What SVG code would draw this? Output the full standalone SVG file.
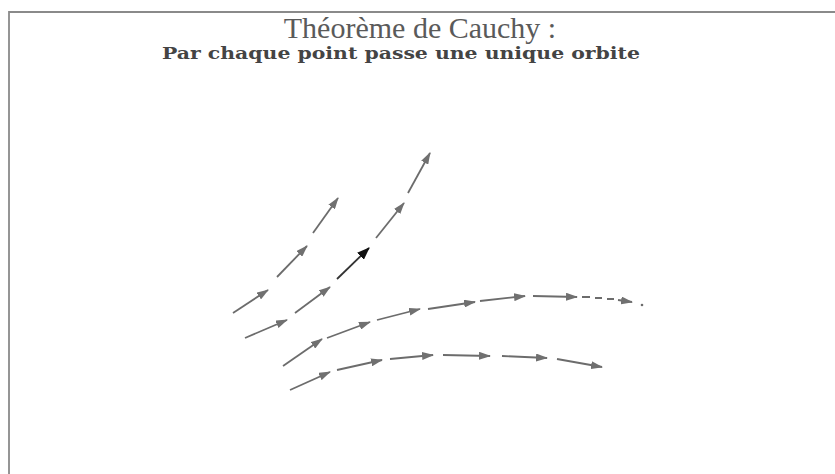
<svg xmlns="http://www.w3.org/2000/svg" width="835" height="474" viewBox="0 0 835 474">
<defs>
<marker id="ah" viewBox="0 0 12 8" refX="11" refY="4" markerWidth="12" markerHeight="8" markerUnits="userSpaceOnUse" orient="auto"><path d="M0,0 L12,4 L0,8 Z" fill="#707070"/></marker>
<marker id="ahb" viewBox="0 0 12 9" refX="11" refY="4.5" markerWidth="13" markerHeight="10" markerUnits="userSpaceOnUse" orient="auto"><path d="M0,0 L12,4.5 L0,9 Z" fill="#111"/></marker>
<style>
.t{font-family:"Liberation Serif","Times New Roman",serif;fill:#5a5a5a}
.b{font-family:"DejaVu Serif","Liberation Serif",serif;font-weight:bold;fill:#444}
.s{stroke:#6c6c6c;stroke-width:1.8;fill:none;marker-end:url(#ah)}
.d{stroke:#6c6c6c;stroke-width:1.8;fill:none}
</style>
</defs>
<rect width="835" height="474" fill="#fff"/>
<g id="frame"><path d="M9,474 L9,12 L835,12" fill="none" stroke="#8a8a8a" stroke-width="1.8"/></g>
<g id="title">
<text class="t" x="420" y="38" font-size="30" text-anchor="middle">Théorème de Cauchy :</text>
<text class="b" x="401" y="59" font-size="16" text-anchor="middle" textLength="478" lengthAdjust="spacingAndGlyphs">Par chaque point passe une unique orbite</text>
</g>
<g id="connectors">
<path class="s" d="M233,313 L268,290"/>
<path class="s" d="M277,277 L307,246"/>
<path class="s" d="M313,233 L338,198"/>
<path class="s" d="M245,338 L287,320"/>
<path class="s" d="M295,313 L330,287"/>
<path d="M337,279 L369,248" stroke="#333" stroke-width="1.8" fill="none" marker-end="url(#ahb)"/>
<path class="s" d="M376,238 L404,203"/>
<path class="s" d="M408,193 L430,153"/>
<path class="s" d="M283,366 L322,339"/>
<path class="s" d="M327,338 L370,322" stroke-width="3.4"/>
<path class="s" d="M377,320 L420,309"/>
<path class="s" d="M428,309 L475,302"/>
<path class="s" d="M480,301 L525,296"/>
<path class="s" d="M533,296 L577,297"/>
<path class="d" d="M582,297 L590,297 M595,298 L602,298 M607,299 L614,299"/>
<path class="s" d="M618,300 L632,302"/>
<circle cx="642" cy="305" r="1.3" fill="#6c6c6c"/>
<path class="s" d="M290,390 L330,372"/>
<path class="s" d="M337,370 L382,360"/>
<path class="s" d="M390,359 L433,355"/>
<path class="s" d="M443,355 L490,356"/>
<path class="s" d="M502,356 L547,358"/>
<path class="s" d="M557,359 L602,367"/>
</g>
</svg>
